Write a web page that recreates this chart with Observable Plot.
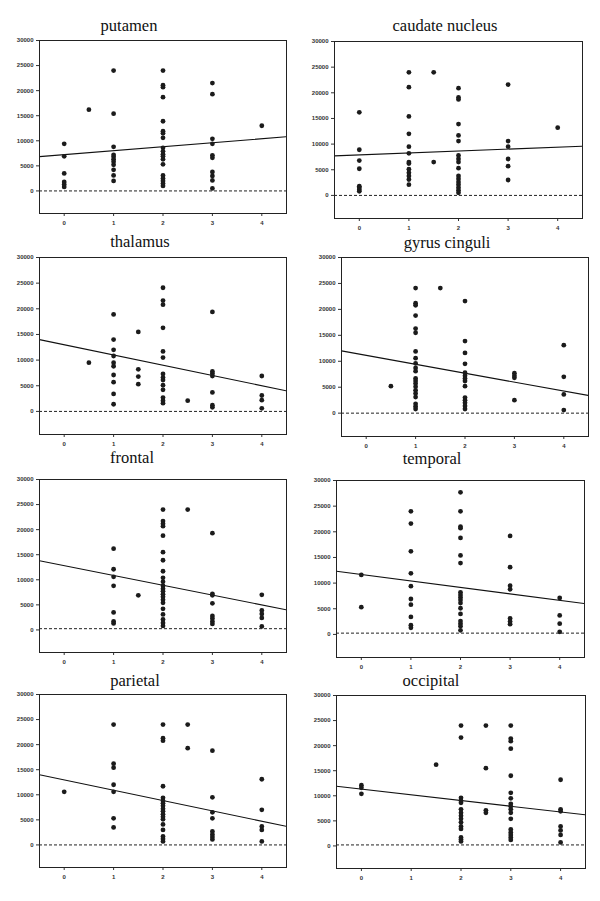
<!DOCTYPE html>
<html><head><meta charset="utf-8">
<script src="https://cdn.jsdelivr.net/npm/d3@7"></script>
<script src="https://cdn.jsdelivr.net/npm/@observablehq/plot@0.6"></script>
<style>
html,body{margin:0;padding:0;background:#fff}
body{width:600px;height:901px;position:relative;overflow:hidden}
.panel{position:absolute}
.title{position:absolute;font-family:"Liberation Serif","Times New Roman",serif;font-size:16.5px;color:#111;transform:translateX(-50%);white-space:nowrap;line-height:1}
</style></head><body>
<script>
const regions = ["putamen","caudate nucleus","thalamus","gyrus cinguli","frontal","temporal","parietal","occipital"];
const xTicks = [0,1,2,3,4];
const yTicks = [0,5000,10000,15000,20000,25000,30000];

// points grouped as [x, [y values]]
const putamen = [
  [0, [9400,6900,3500,1800,1300,800]],
  [0.5, [16200]],
  [1, [24000,15400,8800,7200,6800,6300,5800,5200,4200,3100,2000]],
  [2, [24000,21100,20700,18700,13900,11900,11500,10600,8600,7900,7300,6900,6300,5300,3100,2500,2000,1500,1000]],
  [3, [21500,19300,10400,9400,7100,6600,3800,3000,2100,500]],
  [4, [13000]]
];
const caudate = [
  [0, [16200,8900,6800,5200,1800,1500,1100,800]],
  [1, [24000,21100,15400,12000,9500,8200,6500,6200,5100,4400,3800,3100,2100]],
  [1.5, [24000,6500]],
  [2, [20900,19100,18700,13900,11700,10600,7800,7100,6500,5300,3800,3200,2600,2100,1500,1000,500]],
  [3, [21600,10600,9500,7100,5700,3000]],
  [4, [13200]]
];
const thalamus = [
  [0.5, [9500]],
  [1, [18900,14000,12000,10800,9500,8800,7100,5700,3400,1400]],
  [1.5, [15500,8200,6800,5300]],
  [2, [24100,21600,20800,16300,11700,10500,7300,6600,6100,5100,4200,2700,2100,1600]],
  [2.5, [2100]],
  [3, [19400,7800,7400,6900,3700,1200,800]],
  [4, [6900,3100,2200,600]]
];
const cinguli = [
  [0.5, [5200]],
  [1, [24100,21200,20800,18800,16300,15500,11900,10600,9600,8700,8100,6700,6200,5700,5100,4400,3800,3100,1800,1300,800]],
  [1.5, [24100]],
  [2, [21600,13900,11600,9500,7800,7200,6700,6200,5200,3000,2500,2000,1400,800]],
  [3, [7700,7200,6800,2500]],
  [4, [13100,7000,3600,600]]
];
const frontal = [
  [1, [16200,12100,10600,8800,3500,1700,1300]],
  [1.5, [6900]],
  [2, [24000,21700,21200,20700,18800,15500,13900,11700,10400,9600,8800,8200,7700,7100,6600,6000,5400,4200,3100,2100,1400,800]],
  [2.5, [24000]],
  [3, [19300,7200,6900,5300,2800,2300,1700,1200]],
  [4, [7000,3900,3200,2400,700]]
];
const temporal = [
  [0, [11600,5300]],
  [1, [24000,21600,16200,11900,9400,6900,5800,3400,1800,1300]],
  [2, [27700,24000,21000,20700,18800,15400,13900,8200,7700,7200,6700,6100,5100,4000,2600,2100,1600,800]],
  [3, [19200,13100,9500,8800,3100,2500,2000]],
  [4, [7100,3700,2100,500]]
];
const parietal = [
  [0, [10600]],
  [1, [24000,16200,15400,12000,10600,5300,3500]],
  [2, [24000,21300,20800,11700,9400,8800,8300,7800,7200,6700,6100,5600,5100,4100,3000,1700,1200,700]],
  [2.5, [24000,19300]],
  [3, [18800,9500,6500,5300,2700,2100,1600,1100]],
  [4, [13100,7000,3700,3000,700]]
];
const occipital = [
  [0, [12100,11600,10400]],
  [1.5, [16200]],
  [2, [24000,21600,9600,9000,8600,7300,6600,6000,5400,4700,3900,3400,1700,1300,900]],
  [2.5, [24000,15500,7100,6600]],
  [3, [24000,21400,20900,19400,14000,10600,9500,8400,7900,7300,6600,5400,3300,2700,2200,1700,1200]],
  [4, [13200,7300,6900,3900,3100,2200,700]]
];
const series = [putamen, caudate, thalamus, cinguli, frontal, temporal, parietal, occipital];

// fitted line values at x = -0.5 and x = 4.5
const lineStart = [6850, 7700, 14000, 12000, 13800, 12300, 14000, 11900];
const lineEnd   = [10800, 9600, 4000, 3400, 4000, 6000, 3700, 6200];
// dashed reference line level
const refLevel  = [0, 0, 0, 0, 250, 250, 0, 200];

// layout: frame boxes [left, top, right, bottom] and title [centerX, baselineY]
const frames = [
  [39,40,286,213],[334,41,582,218],
  [39,257,286,434],[341,257,588,436],
  [39,479,286,652],[336,480,584,657],
  [39,694,286,867],[336,695,585,868]
];
const titlePos = [[129,32],[445,32],[140,248],[447,249],[132,464],[432,465],[135,687],[431,687]];

const mL = 40, mR = 10, mT = 4, mB = 22;
regions.forEach((name, i) => {
  const [l, t, r, b] = frames[i];
  const pts = series[i].flatMap(([x, ys]) => ys.map(y => ({x, y})));
  const fit = [{x: -0.5, y: lineStart[i]}, {x: 4.5, y: lineEnd[i]}];
  const chart = Plot.plot({
    width: (r - l) + mL + mR,
    height: (b - t) + mT + mB,
    marginLeft: mL, marginRight: mR, marginTop: mT, marginBottom: mB,
    style: {fontFamily: "'Liberation Sans', Arial, sans-serif", fontSize: "6px", fontWeight: "bold", color: "#333", background: "transparent"},
    x: {domain: [-0.5, 4.5], ticks: xTicks, tickSize: 3, tickPadding: 4, tickFormat: d => String(d), label: null},
    y: {domain: [-4500, 30000], ticks: yTicks, tickSize: 3, tickPadding: 3, tickFormat: d => String(d), label: null},
    marks: [
      Plot.ruleY([refLevel[i]], {stroke: "#222", strokeWidth: 1, strokeDasharray: "3,2"}),
      Plot.line(fit, {x: "x", y: "y", stroke: "#111", strokeWidth: 1.1, clip: true}),
      Plot.dot(pts, {x: "x", y: "y", r: 2.4, fill: "#1b1b1b", stroke: "none"}),
      Plot.frame({stroke: "#222", strokeWidth: 1})
    ]
  });
  const div = document.createElement("div");
  div.className = "panel";
  div.style.left = (l - mL) + "px";
  div.style.top = (t - mT) + "px";
  div.appendChild(chart);
  document.body.appendChild(div);

  const tt = document.createElement("div");
  tt.className = "title";
  tt.textContent = name;
  tt.style.left = titlePos[i][0] + "px";
  tt.style.top = (titlePos[i][1] - 14) + "px";
  document.body.appendChild(tt);
});
</script>
</body></html>
